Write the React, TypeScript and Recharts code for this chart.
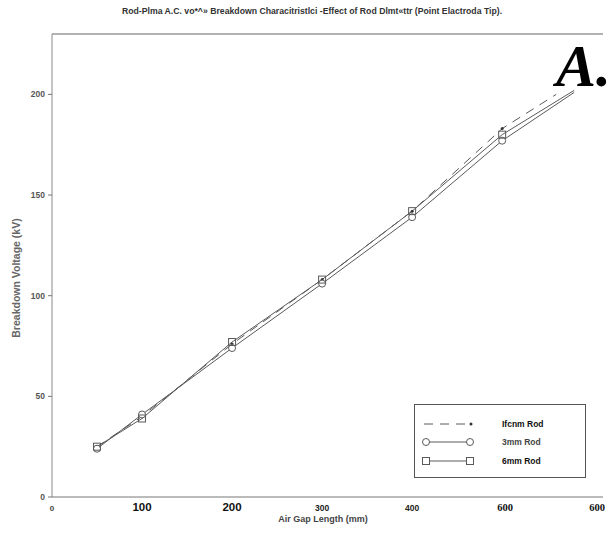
import React from "react";
import { LineChart, Line, XAxis, YAxis, ReferenceLine } from "recharts";

const xTickValues = [0, 100, 200, 300, 400, 500, 600];
const xTickLabels = ["0", "100", "200", "300", "400", "600", "600"];
const yTickValues = [0, 50, 100, 150, 200];
const yMax = 230;
const xMax = 612;

const rod4X = [50, 100, 200, 300, 400, 500, 560];
const rod4Y = [25, 40, 76, 108, 142, 183, 200];
const rod3X = [50, 100, 200, 300, 400, 500, 580];
const rod3Y = [24, 41, 74, 106, 139, 177, 201];
const rod6X = [50, 100, 200, 300, 400, 500, 580];
const rod6Y = [25, 39, 77, 108, 142, 180, 202];

const seriesNames = ["Ifcnm Rod", "3mm Rod", "6mm Rod"];

const toData = (xs: number[], ys: number[]) => xs.map((x, i) => ({ x, y: ys[i] }));
const rod4Data = toData(rod4X, rod4Y);
const rod3Data = toData(rod3X, rod3Y);
const rod6Data = toData(rod6X, rod6Y);

const LINE = "#5a5a5a";

const xTickStyles = [
  { fontFamily: "Arial, Liberation Sans", fontSize: 8, fontWeight: 700, fill: "#444" },
  { fontFamily: "Arial, Liberation Sans", fontSize: 11.5, fontWeight: 700, fill: "#111" },
  { fontFamily: "Arial, Liberation Sans", fontSize: 11.5, fontWeight: 700, fill: "#111" },
  { fontFamily: "Arial, Liberation Sans", fontSize: 8.5, fontWeight: 700, fill: "#222" },
  { fontFamily: "Arial, Liberation Sans", fontSize: 8.5, fontWeight: 700, fill: "#222" },
  { fontFamily: "Liberation Serif, Times New Roman, serif", fontSize: 10.5, fontWeight: 700, fill: "#111" },
  { fontFamily: "Liberation Serif, Times New Roman, serif", fontSize: 10.5, fontWeight: 700, fill: "#111" },
];

const XTick = (props: any) => {
  const { x, y, payload, index } = props;
  const i = typeof index === "number" ? index : xTickValues.indexOf(payload.value);
  const st = xTickStyles[i] || xTickStyles[0];
  const dx = i === 6 ? 5 : i === 5 ? 3 : 0;
  return (
    <text x={x + dx} y={y + 6} textAnchor="middle" {...st}>
      {xTickLabels[i]}
    </text>
  );
};

const YTick = (props: any) => {
  const { x, y, payload } = props;
  return (
    <text x={x - 1} y={y + 3} textAnchor="end" fontFamily="Arial, Liberation Sans" fontSize={8.5} fontWeight={700} fill="#555">
      {payload.value}
    </text>
  );
};

const CircleDot = (props: any) => {
  const { cx, cy, index } = props;
  if (index === rod3X.length - 1 || cx == null) return <g key={"c" + index} />;
  return <circle key={"c" + index} cx={cx} cy={cy} r={3.5} fill="#fff" stroke={LINE} strokeWidth={1} />;
};

const SquareDot = (props: any) => {
  const { cx, cy, index } = props;
  if (index === rod6X.length - 1 || cx == null) return <g key={"s" + index} />;
  return <rect key={"s" + index} x={cx - 3.5} y={cy - 3.5} width={7} height={7} fill="none" stroke={LINE} strokeWidth={1} />;
};

const StarDot = (props: any) => {
  const { cx, cy, index } = props;
  if (index === rod4X.length - 1 || cx == null) return <g key={"a" + index} />;
  return <circle key={"a" + index} cx={cx} cy={cy} r={1.5} fill="#333" stroke="none" />;
};

const LegendBox = () => (
  <div
    style={{
      position: "absolute",
      left: 414,
      top: 404,
      width: 172,
      height: 74,
      border: "1px solid #555",
      background: "#fff",
      boxSizing: "border-box",
    }}
  >
    <svg width={172} height={74} style={{ position: "absolute", left: -1, top: -1 }}>
      <line x1={10} y1={20} x2={56} y2={20} stroke={LINE} strokeWidth={1} strokeDasharray="9 7" />
      <circle cx={57} cy={20} r={1.5} fill="#333" />
      <line x1={12} y1={38} x2={54} y2={38} stroke={LINE} strokeWidth={1} />
      <circle cx={12} cy={38} r={3.5} fill="#fff" stroke={LINE} />
      <circle cx={56} cy={38} r={3.5} fill="#fff" stroke={LINE} />
      <line x1={12} y1={57} x2={54} y2={57} stroke={LINE} strokeWidth={1} />
      <rect x={8.5} y={53.5} width={7} height={7} fill="#fff" stroke={LINE} />
      <rect x={52.5} y={53.5} width={7} height={7} fill="#fff" stroke={LINE} />
      {seriesNames.map((n, i) => (
        <text key={n} x={88} y={[23, 41, 60][i]} fontFamily="Arial, Liberation Sans" fontSize={8.5} fontWeight={700} fill={i === 1 ? "#444" : "#111"}>
          {n}
        </text>
      ))}
    </svg>
  </div>
);

export default function App() {
  return (
    <div style={{ position: "absolute", left: 0, top: 0, width: 613, height: 535, background: "#fff" }}>
      <LineChart width={613} height={535} data={rod3Data} margin={{ top: 34, right: 10, bottom: 0, left: 0 }}>
        <XAxis
          xAxisId="b"
          dataKey="x"
          type="number"
          domain={[0, xMax]}
          ticks={xTickValues}
          tick={<XTick />}
          tickLine={false}
          axisLine={{ stroke: "#777" }}
          height={38}
          interval={0}
          allowDataOverflow
        />
        <YAxis
          yAxisId="l"
          type="number"
          domain={[0, yMax]}
          ticks={yTickValues}
          tick={<YTick />}
          tickLine={{ stroke: "#777" }}
          tickSize={4}
          axisLine={{ stroke: "#888" }}
          width={52}
          interval={0}
          allowDataOverflow
        />
        <YAxis
          yAxisId="r"
          orientation="right"
          type="number"
          domain={[0, yMax]}
          ticks={yTickValues}
          tick={false}
          tickLine={{ stroke: "#888" }}
          mirror
          tickSize={5}
          axisLine={{ stroke: "#999" }}
          width={0}
        />
        <ReferenceLine xAxisId="b" yAxisId="l" y={yMax} stroke="#666" strokeWidth={1.2} ifOverflow="visible" />
        <Line xAxisId="b" yAxisId="l" data={rod4Data} dataKey="y" name={seriesNames[0]} stroke={LINE} strokeWidth={1} strokeDasharray="9 7" dot={<StarDot />} isAnimationActive={false} />
        <Line xAxisId="b" yAxisId="l" data={rod3Data} dataKey="y" name={seriesNames[1]} stroke={LINE} strokeWidth={1} dot={<CircleDot />} isAnimationActive={false} />
        <Line xAxisId="b" yAxisId="l" data={rod6Data} dataKey="y" name={seriesNames[2]} stroke={LINE} strokeWidth={1} dot={<SquareDot />} isAnimationActive={false} />
      </LineChart>
      <LegendBox />
      <div
        style={{
          position: "absolute",
          left: 0,
          top: 6,
          width: 624,
          textAlign: "center",
          fontFamily: "Arial, Liberation Sans",
          fontSize: 8.7,
          fontWeight: 700,
          color: "#333",
          whiteSpace: "nowrap",
        }}
      >
        Rod-Plma A.C. vo*^» Breakdown Characitristlci -Effect of Rod Dlmt«ttr (Point Elactroda Tip).
      </div>
      <div
        style={{
          position: "absolute",
          left: 50,
          top: 514,
          width: 546,
          textAlign: "center",
          fontFamily: "Arial, Liberation Sans",
          fontSize: 9,
          fontWeight: 700,
          color: "#444",
          whiteSpace: "nowrap",
        }}
      >
        Air Gap Length (mm)
      </div>
      <div
        style={{
          position: "absolute",
          left: 16,
          top: 278,
          transform: "translate(-50%, -50%) rotate(-90deg)",
          fontFamily: "Arial, Liberation Sans",
          fontSize: 10.5,
          fontWeight: 700,
          color: "#666",
          whiteSpace: "nowrap",
        }}
      >
        Breakdown Voltage (kV)
      </div>
      <div
        style={{
          position: "absolute",
          left: 556,
          top: 36,
          fontFamily: "Liberation Serif, Times New Roman, serif",
          fontSize: 60,
          fontWeight: 700,
          fontStyle: "italic",
          color: "#000",
          lineHeight: "60px",
          whiteSpace: "nowrap",
        }}
      >
        A.
      </div>
    </div>
  );
}
